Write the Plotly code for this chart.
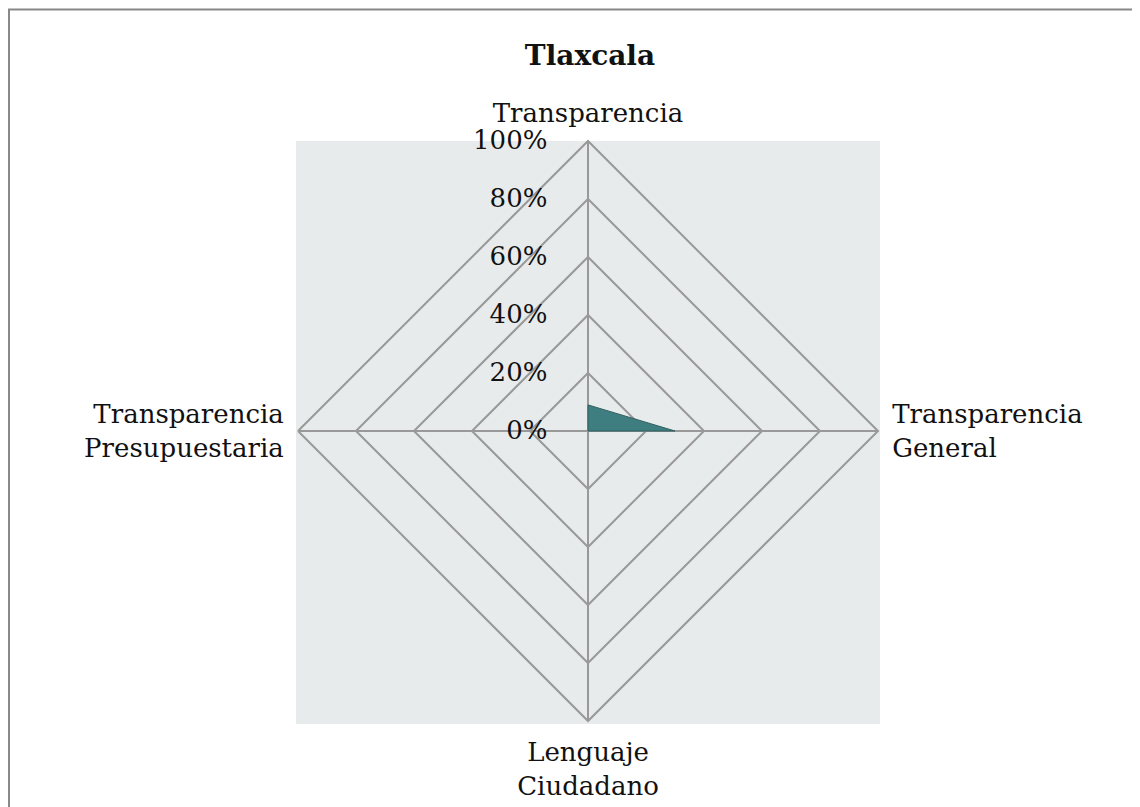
import plotly.graph_objects as go

categories = ['Transparencia', 'Transparencia<br>General', 'Lenguaje<br>Ciudadano',
              'Transparencia<br>Presupuestaria']
values = [0.09, 0.30, 0.0, 0.0]
radial_ticks = [0, 0.2, 0.4, 0.6, 0.8, 1.0]
radial_labels = ['0%', '20%', '40%', '60%', '80%', '100%']

W, H = 1140, 807
OX, OY = 8, 7  # page offset of the plot div
font_family = "Georgia, 'DejaVu Serif', serif"


def px_x(x):
    return (x - OX) / W


def px_y(y):
    return 1 - (y - OY) / H


fig = go.Figure()
fig.add_trace(go.Scatterpolar(
    r=values + [values[0]],
    theta=categories + [categories[0]],
    fill='toself',
    fillcolor='#3f7e80',
    line=dict(color='#2f5f60', width=1),
    mode='lines',
    showlegend=False,
))

fig.update_layout(
    width=W, height=H,
    margin=dict(l=0, r=0, t=0, b=0),
    paper_bgcolor='white',
    font=dict(family=font_family, color='#111111', size=26),
    title=dict(text='<b>Tlaxcala</b>', x=px_x(590), xanchor='center', y=px_y(54), yanchor='middle',
               font=dict(size=28, family=font_family, color='#111111')),
    polar=dict(
        domain=dict(x=[px_x(298), px_x(878)], y=[px_y(720), px_y(140)]),
        bgcolor='rgba(0,0,0,0)',
        gridshape='linear',
        angularaxis=dict(
            rotation=90, direction='clockwise',
            showline=True, linecolor='#999999', linewidth=2,
            gridcolor='#999999', gridwidth=2,
            ticks='outside', ticklen=8, tickcolor='rgba(0,0,0,0)',
            tickfont=dict(size=26),
        ),
        radialaxis=dict(
            range=[0, 1], angle=90, tickangle=90,
            tickvals=radial_ticks, ticktext=radial_labels,
            showline=False, gridcolor='#999999', gridwidth=2,
            ticks='outside', ticklen=31, tickcolor='rgba(0,0,0,0)',
            side='counterclockwise', tickfont=dict(size=26),
        ),
    ),
    shapes=[
        dict(type='rect', xref='paper', yref='paper', layer='below',
             x0=px_x(296), x1=px_x(880), y0=px_y(723), y1=px_y(140),
             fillcolor='#e8ebeb', line=dict(width=0)),
        dict(type='rect', xref='paper', yref='paper', layer='above',
             x0=1 / W, x1=1.05, y0=-0.05, y1=1 - 1.5 / H,
             fillcolor='rgba(0,0,0,0)', line=dict(color='#888888', width=2)),
    ],
)

fig.write_html("out.html")
